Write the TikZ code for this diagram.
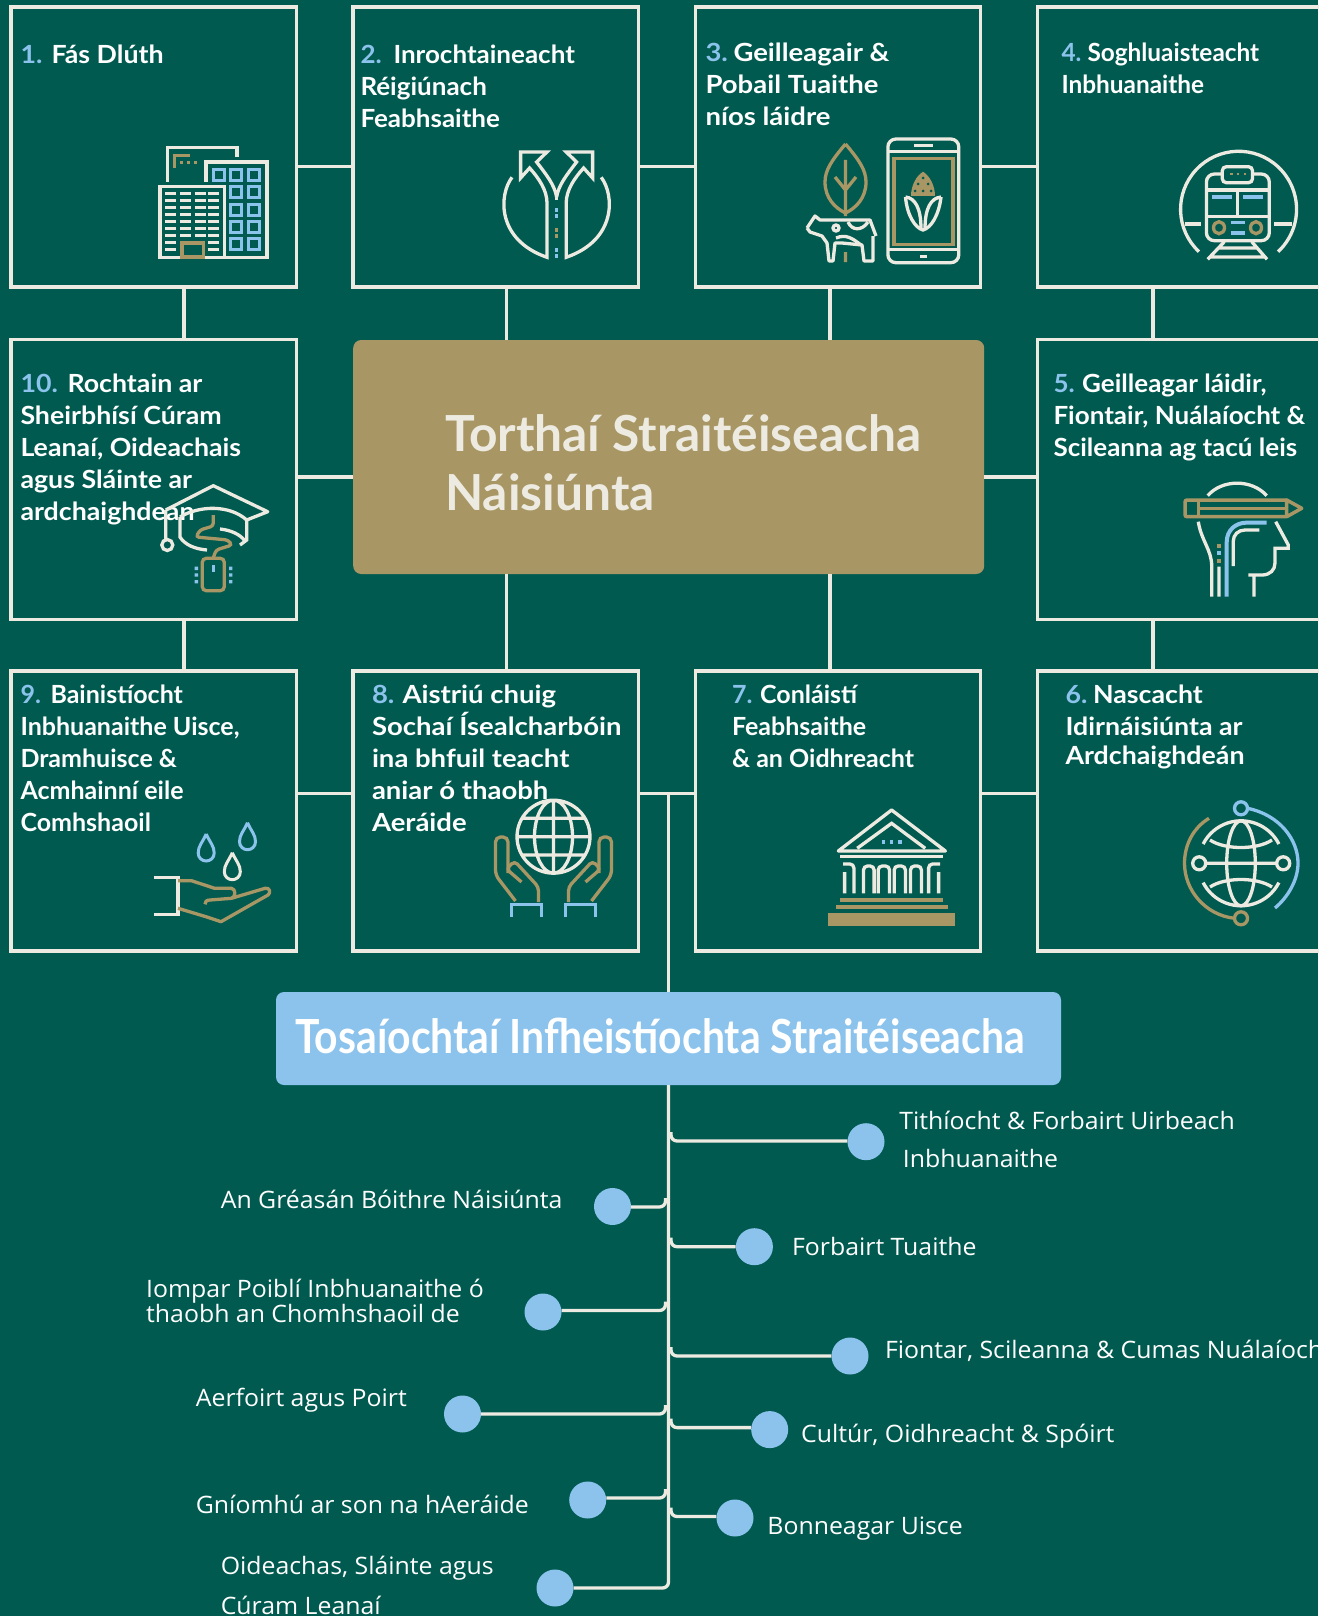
\documentclass[tikz,border=0pt]{standalone}
\usepackage{fontspec}
\setmainfont{Lato}
\newfontfamily\listfont[FakeStretch=1.035]{Open Sans}
\newfontfamily\headfont[FakeStretch=0.87]{Lato}
\newfontfamily\boxn[FakeStretch=0.975]{Lato}
\newfontfamily\boxa[FakeStretch=1.04]{Lato}
\newfontfamily\boxb[FakeStretch=1.07]{Lato}
\newfontfamily\boxc[FakeStretch=1.10]{Lato}
\usetikzlibrary{positioning}
\definecolor{bgteal}{HTML}{005A50}
\definecolor{cream}{HTML}{EDEBE1}
\definecolor{gold}{HTML}{A89664}
\definecolor{skyblue}{HTML}{8CC3EC}
\newcommand{\boxnum}[2]{\makebox[#1pt][l]{\textcolor{skyblue}{#2}}}
\tikzset{
  goalbox/.style={draw=cream,line width=3.3pt,minimum width=285.5pt,minimum height=280pt,inner sep=0pt},
  link/.style={draw=cream,line width=3.3pt},
  boxtext/.style={anchor=north west,inner sep=0pt,xshift=-0.7pt,align=left,text=white,font=\fontsize{25}{32}\selectfont#1\bfseries,execute at begin node=\strut},
  boxtext/.default={},
  listtext/.style={anchor=north west,inner sep=0pt,xshift=-0.8pt,align=left,text=white,font=\fontsize{24}{30}\selectfont\listfont,execute at begin node=\strut},
  bullet/.style={circle,fill=skyblue,minimum size=37pt,inner sep=0pt},
  branch/.style={draw=cream,line width=3.3pt,rounded corners=6pt},
  ic/.style={draw=cream,line width=3.3pt},
  icg/.style={draw=gold,line width=3.3pt},
  icb/.style={draw=skyblue,line width=3.3pt}
}
\begin{document}
\begin{tikzpicture}[x=1pt,y=-1pt]
  \useasboundingbox (0,0) rectangle (1318,1616);
  \fill[bgteal] (0,0) rectangle (1318,1616);
  % goal boxes
  \node[goalbox] (fas) at (153.7,147) {};
  \node[goalbox] (rochtain) at (153.7,479.3) {};
  \node[goalbox] (bainisti) at (153.7,811) {};
  \node[goalbox] (inrocht) at (495.8,147) {};
  \node[goalbox] (aistriu) at (495.8,811) {};
  \node[goalbox] (geill) at (838,147) {};
  \node[goalbox] (conlaisti) at (838,811) {};
  \node[goalbox] (soghl) at (1180,147) {};
  \node[goalbox] (geillead) at (1180,479.3) {};
  \node[goalbox] (nascacht) at (1180,811) {};
  \node[draw=none,fill=gold,rounded corners=8pt,minimum width=631pt,minimum height=234pt] (torthai) at (668.7,457) {};
  \node[draw=none,fill=skyblue,rounded corners=8pt,minimum width=785pt,minimum height=93pt] (tosai) at (668.5,1038.5) {};
  % links between the boxes
  \coordinate (rowa) at (0,166.5);
  \coordinate (rowb) at (0,477);
  \coordinate (rowc) at (0,793.5);
  \coordinate (cola) at (184,0);
  \coordinate (colb) at (506.5,0);
  \coordinate (colc) at (830,0);
  \coordinate (cold) at (1153,0);
  \coordinate (trunk) at (668.5,0);
  \draw[link] (fas.east |- rowa) -- (inrocht.west |- rowa);
  \draw[link] (inrocht.east |- rowa) -- (geill.west |- rowa);
  \draw[link] (geill.east |- rowa) -- (soghl.west |- rowa);
  \draw[link] (rochtain.east |- rowb) -- (torthai.west |- rowb);
  \draw[link] (torthai.east |- rowb) -- (geillead.west |- rowb);
  \draw[link] (bainisti.east |- rowc) -- (aistriu.west |- rowc);
  \draw[link] (aistriu.east |- rowc) -- (conlaisti.west |- rowc);
  \draw[link] (conlaisti.east |- rowc) -- (nascacht.west |- rowc);
  \draw[link] (cola |- fas.south) -- (cola |- rochtain.north);
  \draw[link] (cola |- rochtain.south) -- (cola |- bainisti.north);
  \draw[link] (colb |- inrocht.south) -- (colb |- torthai.north);
  \draw[link] (colb |- torthai.south) -- (colb |- aistriu.north);
  \draw[link] (colc |- geill.south) -- (colc |- torthai.north);
  \draw[link] (colc |- torthai.south) -- (colc |- conlaisti.north);
  \draw[link] (cold |- soghl.south) -- (cold |- geillead.north);
  \draw[link] (cold |- geillead.south) -- (cold |- nascacht.north);
  \draw[link] (trunk |- rowc) -- (trunk |- tosai.north);
  % box texts
  \node[boxtext=\boxb] (fastxt) at (21,41.3) {\boxnum{31}{1.}Fás Dlúth};
  \node[boxtext=\boxa] (inrochttxt) at (361,44.4) {\boxnum{33}{2.}Inrochtaineacht\\Réigiúnach\\Feabhsaithe};
  \node[boxtext=\boxc] (geilltxt) at (706,42.4) {\boxnum{28}{3.}Geilleagair \&\\Pobail Tuaithe\\níos láidre};
  \node[boxtext=\boxn] (soghltxt) at (1062,42.4) {\boxnum{26}{4.}Soghluaisteacht\\Inbhuanaithe};
  \node[boxtext=\boxa] (geilleadtxt) at (1054,373.4) {\boxnum{28.7}{5.}Geilleagar láidir,\\Fiontair, Nuálaíocht \&\\Scileanna ag tacú leis};
  \node[boxtext=\boxb] (nascachttxt) at (1066,684.4) {\boxnum{27.5}{6.}Nascacht\\Idirnáisiúnta ar\\[-3pt]Ardchaighdeán};
  \node[boxtext] (conlaistitxt) at (732.6,684.4) {\boxnum{28}{7.}Conláistí\\Feabhsaithe\\\& an Oidhreacht};
  \node[boxtext=\boxc] (aistriutxt) at (372.5,684.4) {\boxnum{30.5}{8.}Aistriú chuig\\Sochaí Ísealcharbóin\\ina bhfuil teacht\\aniar ó thaobh\\Aeráide};
  \node[boxtext] (bainistitxt) at (21,684.4) {\boxnum{30}{9.}Bainistíocht\\Inbhuanaithe Uisce,\\Dramhuisce \&\\Acmhainní eile\\Comhshaoil};
  \node[boxtext=\boxb] (rochtaintxt) at (21,373.4) {\boxnum{47}{10.}Rochtain ar\\Sheirbhísí Cúram\\Leanaí, Oideachais\\agus Sláinte ar\\ardchaighdean};
  \node[boxtext,text=cream,font=\fontsize{49.7}{58.5}\selectfont\bfseries] (torthaitxt) at (445.7,414.7) {Torthaí Straitéiseacha\\Náisiúnta};
  \node[anchor=base west,inner sep=0pt,text=white,font=\fontsize{47}{56}\selectfont\headfont\bfseries] (tosaitxt) at (295,1053) {Tosaíochtaí Infheistíochta Straitéiseacha};
  % priorities
  \node[bullet] (dla) at (612.5,1206.5) {};
  \node[bullet] (dlb) at (543,1312) {};
  \node[bullet] (dlc) at (462.5,1414) {};
  \node[bullet] (dld) at (587.7,1500) {};
  \node[bullet] (dle) at (555,1588) {};
  \node[bullet] (dra) at (866,1141.7) {};
  \node[bullet] (drb) at (754.4,1246.7) {};
  \node[bullet] (drc) at (850,1356) {};
  \node[bullet] (drd) at (769.7,1429.6) {};
  \node[bullet] (dre) at (735,1518) {};
  \draw[branch] (trunk |- tosai.south) -- (trunk |- dle) -- (dle.east);
  \foreach \d/\y in {dla/1207,dlb/1310.5,dlc/1414,dld/1498}
    \draw[branch] (\d.east |- 0,\y) -- (665.5,\y) -- (665.5,{\y-9});
  \foreach \d/\y in {dra/1141,drb/1246.7,drc/1356,drd/1427.6,dre/1516.5}
    \draw[branch] (\d.west |- 0,\y) -- (671,\y) -- (671,{\y-9});
  \node[listtext] (la) at (221.4,1187.5) {An Gréasán Bóithre Náisiúnta};
  \node[listtext] (lb) at (146.8,1279) {Iompar Poiblí Inbhuanaithe ó\\[-5pt]thaobh an Chomhshaoil de};
  \node[listtext] (lc) at (196.5,1385) {Aerfoirt agus Poirt};
  \node[listtext] (ld) at (196.5,1492.7) {Gníomhú ar son na hAeráide};
  \node[listtext] (le) at (221.4,1555.5) {Oideachas, Sláinte agus\\[10.5pt]Cúram Leanaí};
  \node[listtext] (ra) at (900,1111) {Tithíocht \& Forbairt Uirbeach\\[8pt]\hspace*{3.5pt}Inbhuanaithe};
  \node[listtext] (rb) at (792.7,1234) {Forbairt Tuaithe};
  \node[listtext] (rc) at (885.6,1337.5) {Fiontar, Scileanna \& Cumas Nuálaíochta};
  \node[listtext] (rd) at (801.7,1421.5) {Cultúr, Oidhreacht \& Spóirt};
  \node[listtext] (re) at (768,1513.6) {Bonneagar Uisce};
  % icon 1, buildings
  \draw[ic] (167.5,181.7) -- (167.5,147.7) -- (237,147.7) -- (237,157);
  \draw[icg] (174.2,167.7) -- (174.2,155.3) -- (190,155.3);
  \foreach \x in {181,188,195.7}
    \fill[gold] (\x-1.5,161.2) rectangle ++(3,3);
  \draw[ic] (206,182) -- (206,162) -- (267,162) -- (267,257.3) -- (225.6,257.3);
  \draw[ic] (160,186.7) rectangle (224.8,257.3);
  \foreach \y in {174.7,192.3,209.7,227,244.3}
    \foreach \x in {236,254.2}
      \draw[icb] (\x-5.5,\y-5.5) rectangle ++(11,11);
  \draw[icb] (213.8,169.2) rectangle ++(11,11);
  \foreach \y in {193.7,200.7,207.7,214.7,221.7,228.7,235.7}
    \foreach \x in {165.4,180,194.5,208}
      \draw[ic] (\x,\y) -- ++(11,0);
  \foreach \y in {242.7,249.3}
    \foreach \x in {165.4,208}
      \draw[ic] (\x,\y) -- ++(11,0);
  \draw[icg,line width=3.5pt] (182,243) rectangle (203.5,257);
  % icon 2, road splitting in two
  \foreach \s in {1,-1} {
    \begin{scope}[shift={(556.6,0)},xscale=\s]
      \draw[ic] (-44.6,177.3) .. controls (-58,195) and (-60,240) .. (-9.6,257.3) -- (-9.6,203) .. controls (-9.6,190) and (-18,178) .. (-27,168) -- (-36,178) -- (-36,152) -- (-9.6,152) -- (-20,162) .. controls (-10,175) and (-2,185) .. (0,197);
    \end{scope}
  }
  \draw[ic] (556.6,190) -- (556.6,200);
  \foreach \y/\c in {210/skyblue,216/skyblue,230/gold,236/gold,250/skyblue,256/skyblue}
    \fill[\c] (555,\y-2) rectangle ++(3.4,4);
  % icon 3, leaf, cow, phone
  \draw[icg] (845.5,144) .. controls (832,160) and (825,170) .. (825,182) .. controls (825,198) and (835,208) .. (845.5,213) .. controls (856,208) and (866,198) .. (866,182) .. controls (866,170) and (859,160) .. (845.5,144);
  \draw[icg] (845.5,160) -- (845.5,216) (835,177) -- (845.5,190) -- (856,177) (845.5,252) -- (845.5,262);
  \draw[ic,line join=round] (807,228) -- (815,216) -- (820,220) -- (870,220) -- (876,236) (873,236) -- (873,261) -- (864,261) -- (862,245) -- (842,243) -- (835,243) -- (833,261) -- (829,261) -- (827,243) -- (822,236) -- (810,232) -- (807,228);
  \draw[ic] (836,228) circle (3);
  \draw[ic] (848,222) .. controls (852,231) and (862,231) .. (868,222) (836,238) .. controls (846,234) and (852,238) .. (861,245);
  \draw[ic,rounded corners=8pt] (887.9,139) rectangle (958.8,262.7);
  \draw[ic] (887.9,151.7) -- (958.8,151.7) (887.9,249.3) -- (958.8,249.3) (914,145.7) -- (932.8,145.7);
  \fill[cream] (920,254.5) rectangle (926.5,257.5);
  \draw[icg,line width=3.5pt] (894,158.3) rectangle (953,244.3);
  \fill[gold] (923,171.7) .. controls (916,176) and (911,186) .. (911,196) -- (935,196) .. controls (935,186) and (930,176) .. (923,171.7);
  \foreach \x/\y in {923/178,918/184,928/184,915/191,923/191,931/191}
    \fill[bgteal] (\x,\y) circle (1.5);
  \draw[ic] (905.5,197) .. controls (907,215) and (915,228) .. (923,230) .. controls (931,228) and (939,215) .. (941,197) (905.5,197) .. controls (915,198) and (921,208) .. (921,229) (941,197) .. controls (931,198) and (925,208) .. (925,229);
  % icon 4, train
  \draw[ic] (1199,251.7) arc[start angle=133,end angle=407,radius=58];
  \draw[ic] (1184.5,224) -- (1201,224) (1274,224) -- (1291.5,224);
  \draw[ic,rounded corners=8pt] (1206.4,174) rectangle (1269.3,240.7);
  \draw[ic] (1206.4,190) -- (1269.3,190) (1206.4,216.7) -- (1269.3,216.7) (1237.8,190) -- (1237.8,216.7);
  \draw[ic,fill=bgteal,rounded corners=4pt] (1222.3,166.7) rectangle (1252.5,182.7);
  \foreach \x in {1231.5,1238,1245}
    \fill[gold] (\x-1.3,172.7) rectangle ++(2.6,2.6);
  \draw[icb,line width=4pt] (1212,196.7) -- (1231.5,196.7) (1243,196.7) -- (1263,196.7);
  \draw[icg] (1219,227.7) ellipse (5.5 and 6) (1256,227.7) ellipse (5.5 and 6);
  \draw[icb] (1230.7,222.3) -- (1245,222.3) (1230.7,233) -- (1245,233);
  \draw[ic] (1224.4,241.7) -- (1207.7,259.3) (1251.7,241.7) -- (1267,259.3) (1218,248) -- (1258,248) (1209.7,257) -- (1264.3,257);
  % icon 5, head with pencil
  \draw[ic] (1207.7,495.7) .. controls (1222,479) and (1252,479) .. (1266.7,495.7);
  \draw[icg,line width=3.5pt,rounded corners=2pt] (1286.7,500) -- (1185,500) -- (1185,516.7) -- (1286.7,516.7);
  \draw[icg,line width=3.5pt,line join=round] (1286.7,500) -- (1301.7,508.3) -- (1286.7,516.7) -- cycle;
  \draw[icg,line width=3.5pt] (1200,508.3) -- (1286.7,508.3) (1198.3,500) -- (1198.3,516.7);
  \draw[ic] (1198.3,521.7) .. controls (1201,540) and (1211.7,550) .. (1211.7,566) -- (1211.7,596.7) (1219,566.7) -- (1219,596.7);
  \draw[icb,line width=4pt] (1226.7,596.7) -- (1226.7,542) .. controls (1226.7,530) and (1236,522.7) .. (1246,522.7) -- (1266.7,522.7);
  \draw[ic] (1233.3,566) -- (1233.3,541) .. controls (1233.3,535) and (1238,530) .. (1245,530) -- (1259.3,530);
  \draw[ic] (1275.7,521.7) -- (1288.3,545) -- (1288.3,548.3) -- (1275,548.3) -- (1275,563) .. controls (1275,570) and (1270,575) .. (1262,575) -- (1248.3,575) (1254,575) -- (1254,596.7);
  \foreach \y/\c in {546/gold,553.3/skyblue,560.7/gold}
    \fill[\c] (1217,\y-2) rectangle ++(4,4);
  % icon 6, globe with orbit
  \draw[ic] (1241,863.3) ellipse (14.3 and 42.5);
  \draw[ic] (1241,863.3) ++(207:42.5) arc[start angle=207,end angle=333,radius=42.5];
  \draw[ic] (1241,863.3) ++(27:42.5) arc[start angle=27,end angle=153,radius=42.5];
  \draw[ic] (1210,840) .. controls (1225,850) and (1257,850) .. (1272,840) (1210,887) .. controls (1225,877) and (1257,877) .. (1272,887);
  \draw[ic] (1205.5,863.3) -- (1276.9,863.3) (1199.2,863.3) circle (6.5) (1283.2,863.3) circle (6.5);
  \draw[icb] (1247.5,808.3) .. controls (1280,815) and (1298,840) .. (1298,863) .. controls (1298,880) and (1288,897) .. (1275,908) (1241,808.3) circle (6.5);
  \draw[icg] (1209,818.3) .. controls (1193,828) and (1184.5,845) .. (1184.5,863.3) .. controls (1184.5,890) and (1205,915) .. (1234.5,918.3) (1241,918.3) circle (6.5);
  % icon 7, temple
  \draw[ic,line join=round] (838.3,851) -- (891.6,810) -- (945.4,851) -- cycle;
  \draw[ic] (857.2,848.3) -- (891.6,823.3) -- (925.2,848.3);
  \foreach \x in {883.7,891.6,900}
    \fill[skyblue] (\x-1.7,840) rectangle ++(3.4,4);
  \draw[ic] (840.4,856.7) -- (943.3,856.7);
  \foreach \a/\b in {863.5/874.1,878.2/889.5,894.2/905.4,910.5/921.4}
    \draw[ic,rounded corners=4pt] (\a,893.3) -- (\a,866) -- (\b,866) -- (\b,893.3);
  \draw[ic,rounded corners=4pt] (853.9,893.3) -- (853.9,864) -- (843,864) (844.6,872) -- (844.6,893.3) (928.6,893.3) -- (928.6,864) -- (940,864) (938.6,872) -- (938.6,893.3);
  \draw[icg,line width=4pt] (840.4,899.7) -- (943.3,899.7) (836,907.3) -- (947.5,907.3);
  \fill[gold] (827.9,913.3) rectangle (955,925.7);
  % icon 8, hands and globe
  \draw[ic] (553.5,836.7) circle (36.5) (553.5,836.7) ellipse (19 and 36.5) (553.5,800.2) -- (553.5,873.2) (517,836.7) -- (590,836.7) (522,818.3) -- (585,818.3) (522,855) -- (585,855);
  \foreach \s in {1,-1} {
    \begin{scope}[shift={(553.5,0)},xscale=\s]
      \draw[icg,rounded corners=5pt] (-45.5,873) -- (-45.5,837) -- (-58,837) -- (-58,875) -- (-38,901);
      \draw[icg,rounded corners=4pt] (-32,882) -- (-47,869) -- (-39,861) -- (-15,887) -- (-15,902);
      \draw[icb,line width=3.5pt] (-42,916.7) -- (-42,904.3) -- (-12,904.3) -- (-12,916.7);
    \end{scope}
  }
  % icon 9, hand and drops
  \foreach \x/\y/\c in {206.2/834/skyblue,247.5/822.7/skyblue,232.3/852.7/cream}
    \draw[\c,line width=3pt] (\x,\y) .. controls (\x-4,\y+9) and (\x-8,\y+12) .. (\x-8,\y+19) .. controls (\x-8,\y+24) and (\x-4,\y+27) .. (\x,\y+27) .. controls (\x+4,\y+27) and (\x+8,\y+24) .. (\x+8,\y+19) .. controls (\x+8,\y+12) and (\x+4,\y+9) .. (\x,\y);
  \draw[ic] (153.6,877.3) -- (178,877.3) -- (178,914.3) -- (153.6,914.3);
  \draw[icg,line join=round] (178,880.7) -- (191.5,880.7) -- (214.6,888.3) -- (231.5,888.3) .. controls (236,889) and (236,897) .. (231.5,898.3) -- (210,900) .. controls (206,900) and (205,902) .. (205,904.3) (231.5,898.3) -- (265,888.3) .. controls (270,887) and (271,893) .. (268,895) -- (221,921.7) -- (206,916.7) -- (178,908.3);
  % icon 10, graduation cap and mouse
  \draw[ic,line join=round] (165.7,510) -- (213.3,485.7) -- (267.7,511.7) -- (246.7,520);
  \draw[ic] (165.7,510) -- (165.7,540) (167.3,545) circle (5.5);
  \draw[ic] (180,517) .. controls (200,505) and (230,505) .. (246.7,520) -- (246.7,540) -- (240,545) (180,517) -- (180,537) .. controls (185,545) and (195,549) .. (207,550) (220,529) .. controls (230,530) and (240,534) .. (245,541);
  \draw[icg,rounded corners=3pt] (213.3,515) -- (213.3,526) -- (200,530) -- (196,537) -- (228,540) -- (232,545) -- (216,550) -- (213.3,558);
  \draw[icg,rounded corners=4pt] (202.3,558.3) rectangle (224.3,590.7);
  \draw[icb] (213.3,565) -- (213.3,572);
  \foreach \y in {568.3,575,581.7}
    \fill[skyblue] (194.6,\y-1.7) rectangle ++(3.4,3.4) (229,\y-1.7) rectangle ++(3.4,3.4);
\end{tikzpicture}
\end{document}
